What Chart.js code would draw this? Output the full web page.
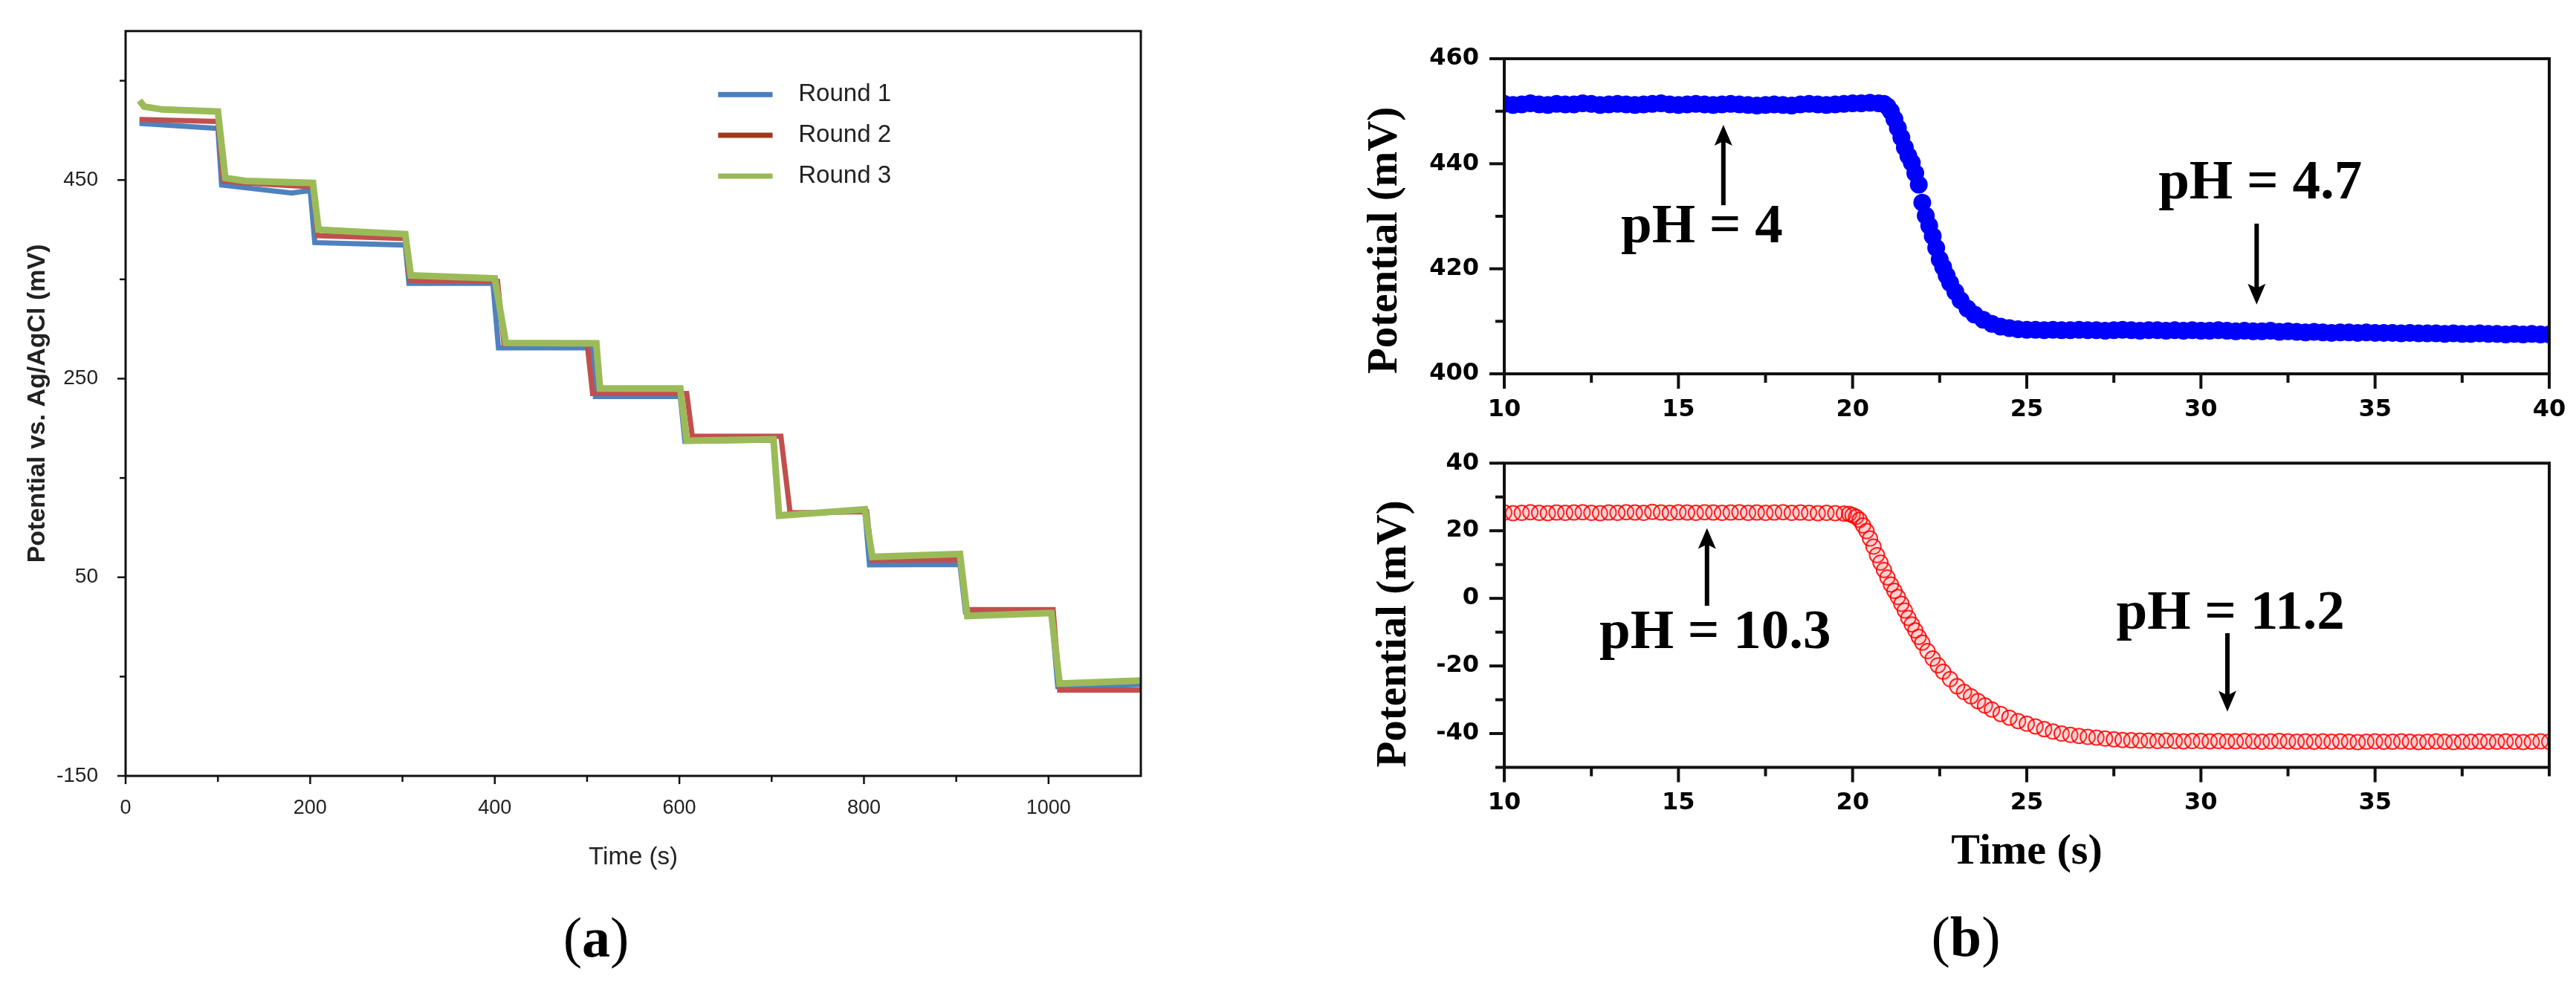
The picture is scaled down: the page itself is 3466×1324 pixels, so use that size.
<!DOCTYPE html>
<html>
<head>
<meta charset="utf-8">
<title>Potential vs time</title>
<script src="https://cdn.jsdelivr.net/npm/chart.js@4.4.1/dist/chart.umd.min.js"></script>
<style>
  body { margin: 0; background: #fff; width: 3466px; height: 1324px; position: relative; overflow: hidden; }
  canvas { position: absolute; }
  #cvA { left: 0; top: 0; }
  #cvTop { left: 1760px; top: 0; }
  #cvBot { left: 1760px; top: 590px; }
  .tag { position: absolute; font-family: "Liberation Serif", serif; font-size: 76px; line-height: 1; transform: translate(-50%, -50%); color: #000; }
</style>
</head>
<body>
<canvas id="cvA" width="1600" height="1200"></canvas>
<canvas id="cvTop" width="1706" height="590"></canvas>
<canvas id="cvBot" width="1706" height="734"></canvas>
<div class="tag" style="left:802px; top:1261px;">(<b>a</b>)</div>
<div class="tag" style="left:2645px; top:1260px;">(<b>b</b>)</div>

<script>
// ---- panel (a): three rounds of step titration, breakpoints ----
var roundNames = ['Round 1', 'Round 2', 'Round 3'];

var r1Time = [15, 100, 104, 180, 200, 205, 303, 307, 398, 404, 505, 509, 601, 606, 702, 708, 801, 806, 904, 910, 1003, 1010, 1100];
var r1Mv   = [507, 502, 445, 437, 439.5, 387, 384.5, 346, 346, 281, 281, 232, 232, 187, 188, 113, 117, 62.5, 63, 15, 15, -60, -58];

var r2Time = [15, 100, 106, 130, 203, 208, 303, 308, 403, 410, 500, 506, 608, 614, 710, 720, 803, 809, 904, 911, 1005, 1012, 1100];
var r2Mv   = [511, 509, 449, 447, 443, 394, 391, 349, 348, 285, 286, 235, 235, 192, 192, 115, 116, 67, 67.5, 17.5, 17.5, -63.5, -63.5];

var r3Time = [15, 20, 40, 100, 108, 130, 203, 209, 250, 303, 309, 400, 412, 510, 514, 601, 608, 702, 708, 801, 809, 904, 912, 1003, 1012, 1100];
var r3Mv   = [530, 524, 521, 519, 452, 449, 447, 400, 398, 395.5, 354, 351, 286, 285.5, 240, 240, 187.5, 189, 112, 118.5, 70.5, 73.5, 11, 14, -57, -54];

var aXTicks  = [0, 100, 200, 300, 400, 500, 600, 700, 800, 900, 1000];
var aXLabels = [0, 200, 400, 600, 800, 1000];
var aYTicks  = [-150, -50, 50, 150, 250, 350, 450, 550];
var aYLabels = [-150, 50, 250, 450];

// ---- panel (b): pH 4 -> 4.7 (top) and pH 10.3 -> 11.2 (bottom) ----
var blueTime = [
  10, 10.25, 10.5, 10.75, 11, 11.25, 11.5, 11.75, 12, 12.25,
  12.5, 12.75, 13, 13.25, 13.5, 13.75, 14, 14.25, 14.5, 14.75,
  15, 15.25, 15.5, 15.75, 16, 16.25, 16.5, 16.75, 17, 17.25,
  17.5, 17.75, 18, 18.25, 18.5, 18.75, 19, 19.25, 19.5, 19.75,
  20, 20.25, 20.5, 20.75, 20.9, 21, 21.1, 21.2, 21.3, 21.4,
  21.5, 21.6, 21.7, 21.8, 21.9, 22, 22.1, 22.2, 22.3, 22.4,
  22.5, 22.6, 22.7, 22.8, 22.95, 23.1, 23.3, 23.5, 23.75, 24,
  24.25, 24.5, 24.75, 25, 25.25, 25.5, 25.75, 26, 26.25, 26.5,
  26.75, 27, 27.25, 27.5, 27.75, 28, 28.25, 28.5, 28.75, 29,
  29.25, 29.5, 29.75, 30, 30.25, 30.5, 30.75, 31, 31.25, 31.5,
  31.75, 32, 32.25, 32.5, 32.75, 33, 33.25, 33.5, 33.75, 34,
  34.25, 34.5, 34.75, 35, 35.25, 35.5, 35.75, 36, 36.25, 36.5,
  36.75, 37, 37.25, 37.5, 37.75, 38, 38.25, 38.5, 38.75, 39,
  39.25, 39.5, 39.75, 40
];
var blueMv = [
  451.4, 451.2, 451.3, 451.5, 451.3, 451.2, 451.4, 451.3, 451.3, 451.5,
  451.4, 451.2, 451.3, 451.4, 451.3, 451.2, 451.3, 451.4, 451.5, 451.3,
  451.2, 451.3, 451.4, 451.3, 451.2, 451.3, 451.4, 451.3, 451.2, 451.1,
  451.2, 451.3, 451.2, 451.1, 451.3, 451.4, 451.3, 451.2, 451.3, 451.4,
  451.5, 451.5, 451.6, 451.5, 451.4, 450.9, 450.0, 448.5, 446.8, 445.0,
  443.1, 441.5, 440.2, 438.2, 436.0, 432.6, 430.1, 428.2, 426.2, 424.0,
  421.8, 420.3, 418.7, 417.3, 415.6, 414.0, 412.4, 411.3, 410.3, 409.5,
  409.0, 408.7, 408.5, 408.4, 408.4, 408.3, 408.4, 408.3, 408.3, 408.4,
  408.3, 408.3, 408.2, 408.3, 408.4, 408.3, 408.2, 408.3, 408.3, 408.2,
  408.3, 408.2, 408.3, 408.2, 408.2, 408.3, 408.2, 408.1, 408.2, 408.1,
  408.1, 408.2, 408.0, 408.1, 408.0, 407.9, 408.0, 407.9, 407.8, 407.9,
  407.9, 407.8, 407.9, 407.8, 407.8, 407.8, 407.7, 407.8, 407.7, 407.7,
  407.7, 407.6, 407.7, 407.6, 407.6, 407.7, 407.6, 407.6, 407.5, 407.6,
  407.5, 407.6, 407.5, 407.5
];

var redTime = [
  10, 10.25, 10.5, 10.75, 11, 11.25, 11.5, 11.75, 12, 12.25,
  12.5, 12.75, 13, 13.25, 13.5, 13.75, 14, 14.25, 14.5, 14.75,
  15, 15.25, 15.5, 15.75, 16, 16.25, 16.5, 16.75, 17, 17.25,
  17.5, 17.75, 18, 18.25, 18.5, 18.75, 19, 19.25, 19.5, 19.75,
  19.9, 20, 20.1, 20.2, 20.3, 20.4, 20.5, 20.6, 20.7, 20.8,
  20.9, 21, 21.1, 21.2, 21.3, 21.4, 21.5, 21.6, 21.7, 21.8,
  21.9, 22, 22.15, 22.3, 22.45, 22.6, 22.8, 23, 23.2, 23.4,
  23.6, 23.8, 24, 24.25, 24.5, 24.75, 25, 25.25, 25.5, 25.75,
  26, 26.25, 26.5, 26.75, 27, 27.25, 27.5, 27.75, 28, 28.25,
  28.5, 28.75, 29, 29.25, 29.5, 29.75, 30, 30.25, 30.5, 30.75,
  31, 31.25, 31.5, 31.75, 32, 32.25, 32.5, 32.75, 33, 33.25,
  33.5, 33.75, 34, 34.25, 34.5, 34.75, 35, 35.25, 35.5, 35.75,
  36, 36.25, 36.5, 36.75, 37, 37.25, 37.5, 37.75, 38, 38.25,
  38.5, 38.75, 39, 39.25, 39.5, 39.75, 40
];
var redMv = [
  25.4, 25.2, 25.3, 25.5, 25.3, 25.2, 25.4, 25.3, 25.4, 25.5,
  25.3, 25.2, 25.4, 25.3, 25.5, 25.4, 25.3, 25.6, 25.4, 25.3,
  25.5, 25.4, 25.3, 25.5, 25.4, 25.3, 25.4, 25.5, 25.3, 25.4,
  25.3, 25.4, 25.5, 25.3, 25.4, 25.3, 25.2, 25.3, 25.2, 25.1,
  25.0, 24.6, 24.1, 23.2, 21.6, 19.9, 17.7, 15.3, 12.8, 10.6,
  8.4, 6.2, 4.1, 2.2, 0.4, -1.6, -3.6, -5.8, -7.7, -9.5,
  -11.4, -13.1, -15.6, -17.8, -19.8, -21.7, -23.9, -26.0, -27.7, -29.0,
  -30.4, -31.7, -32.9, -34.2, -35.3, -36.3, -37.1, -37.9, -38.7, -39.4,
  -40.0, -40.4, -40.7, -41.0, -41.2, -41.5, -41.7, -41.9, -42.0, -42.1,
  -42.1, -42.2, -42.1, -42.2, -42.3, -42.2, -42.2, -42.3, -42.2, -42.3,
  -42.3, -42.2, -42.3, -42.4, -42.3, -42.2, -42.3, -42.4, -42.3, -42.4,
  -42.3, -42.4, -42.3, -42.4, -42.5, -42.4, -42.3, -42.4, -42.4, -42.3,
  -42.4, -42.5, -42.4, -42.3, -42.4, -42.5, -42.4, -42.4, -42.3, -42.4,
  -42.4, -42.3, -42.4, -42.5, -42.4, -42.3, -42.4
];

var bXTicks     = [10, 12.5, 15, 17.5, 20, 22.5, 25, 27.5, 30, 32.5, 35, 37.5, 40];
var bXLabelsTop = [10, 15, 20, 25, 30, 35, 40];
var bXLabelsBot = [10, 15, 20, 25, 30, 35];
var topYTicks   = [400, 410, 420, 430, 440, 450, 460];
var topYLabels  = [400, 420, 440, 460];
var botYTicks   = [-50, -40, -30, -20, -10, 0, 10, 20, 30, 40];
var botYLabels  = [-40, -20, 0, 20, 40];

function pairUp(ts, vs) {
    return ts.map(function(t, i) { return {x: t, y: vs[i]}; });
}

function fixedTicks(list) {
    return function(scale) {
        scale.ticks = list.map(function(v) { return {value: v}; });
    };
}

function labelsOnly(list) {
    return function(value) {
        return list.indexOf(value) >= 0 ? String(value) : '';
    };
}

/**
 * Box round the plot area, plus major/minor tick marks drawn
 * at the scale's own tick pixels (labelled ticks are the long ones)
 */
var frameTicks = {
    id: 'frameTicks',
    afterDraw: function(chart, args, opts) {
        var ctx = chart.ctx, a = chart.chartArea;
        ctx.save();
        ctx.strokeStyle = opts.color;
        ctx.lineWidth = opts.lineWidth;
        ctx.strokeRect(a.left, a.top, a.right - a.left, a.bottom - a.top);
        ctx.lineWidth = opts.tickWidth;
        ['x', 'y'].forEach(function(id) {
            var scale = chart.scales[id];
            scale.ticks.forEach(function(tk) {
                var p = scale.getPixelForValue(tk.value);
                var len = tk.label === '' ? opts.minor : opts.major;
                ctx.beginPath();
                if (id === 'x') {
                    ctx.moveTo(p, a.bottom);
                    ctx.lineTo(p, a.bottom + len);
                } else {
                    ctx.moveTo(a.left, p);
                    ctx.lineTo(a.left - len, p);
                }
                ctx.stroke();
            });
        });
        ctx.restore();
    }
};

// pH labels with their arrows, placed in data units
var phNotes = {
    id: 'phNotes',
    afterDatasetsDraw: function(chart, args, opts) {
        var ctx = chart.ctx, xs = chart.scales.x, ys = chart.scales.y;
        ctx.save();
        ctx.fillStyle = '#000';
        ctx.strokeStyle = '#000';
        ctx.font = opts.font;
        ctx.textBaseline = 'alphabetic';
        ctx.textAlign = 'left';
        opts.items.forEach(function(it) {
            ctx.fillText(it.text, xs.getPixelForValue(it.x), ys.getPixelForValue(it.y));
            var ax = xs.getPixelForValue(it.arrowX);
            var y0 = ys.getPixelForValue(it.tail), y1 = ys.getPixelForValue(it.tip);
            var dir = y1 > y0 ? 1 : -1;
            ctx.lineWidth = 6;
            ctx.beginPath();
            ctx.moveTo(ax, y0);
            ctx.lineTo(ax, y1 - dir * 20);
            ctx.stroke();
            ctx.beginPath();
            ctx.moveTo(ax, y1);
            ctx.lineTo(ax - 12, y1 - dir * 28);
            ctx.lineTo(ax, y1 - dir * 22);
            ctx.lineTo(ax + 12, y1 - dir * 28);
            ctx.closePath();
            ctx.fill();
        });
        ctx.restore();
    }
};

// legend sitting inside the plot of panel (a)
var roundLegend = {
    id: 'roundLegend',
    afterDraw: function(chart, args, opts) {
        var ctx = chart.ctx, xs = chart.scales.x, ys = chart.scales.y;
        var x0 = xs.getPixelForValue(opts.lineFrom), x1 = xs.getPixelForValue(opts.lineTo);
        var tx = xs.getPixelForValue(opts.textAt);
        ctx.save();
        ctx.font = opts.font;
        ctx.textBaseline = 'middle';
        ctx.fillStyle = '#222';
        opts.rows.forEach(function(rowVal, i) {
            var y = ys.getPixelForValue(rowVal);
            ctx.strokeStyle = opts.colors[i];
            ctx.lineWidth = 7;
            ctx.beginPath();
            ctx.moveTo(x0, y);
            ctx.lineTo(x1, y);
            ctx.stroke();
            ctx.fillText(roundNames[i], tx, y);
        });
        ctx.restore();
    }
};

var clear = 'rgba(0,0,0,0)';

/**
 * Panel (a)
 */
new Chart(document.getElementById('cvA'), {
    type: 'scatter',
    data: {
        datasets: [
            { label: roundNames[0], data: pairUp(r1Time, r1Mv), showLine: true, borderColor: '#4f81bd', borderWidth: 7, pointRadius: 0, order: 3 },
            { label: roundNames[1], data: pairUp(r2Time, r2Mv), showLine: true, borderColor: '#c0504d', borderWidth: 7, pointRadius: 0, order: 2 },
            { label: roundNames[2], data: pairUp(r3Time, r3Mv), showLine: true, borderColor: '#9bbb59', borderWidth: 9, pointRadius: 0, order: 1 }
        ]
    },
    options: {
        responsive: false,
        animation: false,
        devicePixelRatio: 1,
        layout: { padding: { left: 0, right: 65, top: 33, bottom: 0 } },
        plugins: {
            legend: { display: false },
            tooltip: { enabled: false },
            frameTicks: { color: '#111', lineWidth: 3, tickWidth: 2.5, major: 11, minor: 8 },
            roundLegend: {
                lineFrom: 642, lineTo: 701, textAt: 729,
                rows: [536, 495, 454],
                colors: ['#4a7ebb', '#9c3b1b', '#98b954'],
                font: '33px "Liberation Sans"'
            }
        },
        scales: {
            x: {
                type: 'linear', min: 0, max: 1100,
                afterBuildTicks: fixedTicks(aXTicks),
                afterFit: function(s) { s.height = 156; },
                ticks: { autoSkip: false, maxRotation: 0, padding: 17, color: '#222',
                         font: { family: 'Liberation Sans', size: 27 }, callback: labelsOnly(aXLabels) },
                grid: { drawOnChartArea: false, tickLength: 10, color: clear },
                border: { display: false },
                title: { display: true, text: 'Time (s)', color: '#222',
                         font: { family: 'Liberation Sans', size: 33 }, padding: { top: 0, bottom: 26 } }
            },
            y: {
                type: 'linear', min: -150, max: 600,
                afterBuildTicks: fixedTicks(aYTicks),
                afterFit: function(s) { s.width = 169; },
                ticks: { autoSkip: false, padding: 25, color: '#222',
                         font: { family: 'Liberation Sans', size: 28 }, callback: labelsOnly(aYLabels) },
                grid: { drawOnChartArea: false, tickLength: 12, color: clear },
                border: { display: false },
                title: { display: true, text: 'Potential vs. Ag/AgCl (mV)', color: '#222',
                         font: { family: 'Liberation Sans', size: 34, weight: 'bold' }, padding: { top: 30, bottom: 0 } }
            }
        }
    },
    plugins: [frameTicks, roundLegend]
});

/**
 * Panel (b) - both halves share the Origin-like axis styling
 */
function bScales(yMin, yMax, yTicks, yLabels, xLabels, xHeight, titleLeft, withTitle) {
    return {
        x: {
            type: 'linear', min: 10, max: 40,
            afterBuildTicks: fixedTicks(bXTicks),
            afterFit: function(s) { s.height = xHeight; },
            ticks: { autoSkip: false, maxRotation: 0, padding: 9, color: '#000',
                     font: { family: 'DejaVu Sans', size: 32, weight: 'bold' }, callback: labelsOnly(xLabels) },
            grid: { drawOnChartArea: false, tickLength: 20, color: clear },
            border: { display: false },
            title: { display: withTitle, text: 'Time (s)', color: '#000',
                     font: { family: 'Liberation Serif', size: 58, weight: 'bold' }, padding: { top: 0, bottom: 142 } }
        },
        y: {
            type: 'linear', min: yMin, max: yMax,
            afterBuildTicks: fixedTicks(yTicks),
            afterFit: function(s) { s.width = 264; },
            ticks: { autoSkip: false, padding: 14, color: '#000',
                     font: { family: 'DejaVu Sans', size: 32, weight: 'bold' }, callback: labelsOnly(yLabels) },
            grid: { drawOnChartArea: false, tickLength: 20, color: clear },
            border: { display: false },
            title: { display: true, text: 'Potential (mV)', color: '#000', align: 'start',
                     font: { family: 'Liberation Serif', size: 57, weight: 'bold' }, padding: { top: titleLeft, bottom: 0 } }
        }
    };
}

new Chart(document.getElementById('cvTop'), {
    type: 'scatter',
    data: {
        datasets: [{
            label: 'pH 4 to 4.7',
            data: pairUp(blueTime, blueMv),
            pointStyle: 'circle', pointRadius: 12, pointBorderWidth: 0,
            pointBackgroundColor: '#0000ff', pointBorderColor: '#0000ff'
        }]
    },
    options: {
        responsive: false,
        animation: false,
        devicePixelRatio: 1,
        layout: { padding: { left: 0, right: 36, top: 79, bottom: 0 } },
        plugins: {
            legend: { display: false },
            tooltip: { enabled: false },
            frameTicks: { color: '#111', lineWidth: 4, tickWidth: 4, major: 20, minor: 12 },
            phNotes: {
                font: 'bold 75px "Liberation Serif"',
                items: [
                    { text: 'pH = 4',   x: 13.35, y: 425.1, arrowX: 16.29, tail: 432.1, tip: 447.4 },
                    { text: 'pH = 4.7', x: 28.78, y: 433.4, arrowX: 31.6,  tail: 428.6, tip: 413.2 }
                ]
            }
        },
        scales: bScales(400, 460, topYTicks, topYLabels, bXLabelsTop, 87, 70, false)
    },
    plugins: [frameTicks, phNotes]
});

new Chart(document.getElementById('cvBot'), {
    type: 'scatter',
    data: {
        datasets: [{
            label: 'pH 10.3 to 11.2',
            data: pairUp(redTime, redMv),
            pointStyle: 'circle', pointRadius: 10, pointBorderWidth: 2,
            pointBackgroundColor: 'rgba(255,90,90,0.15)', pointBorderColor: 'rgba(255,0,0,0.85)'
        }]
    },
    options: {
        responsive: false,
        animation: false,
        devicePixelRatio: 1,
        layout: { padding: { left: 0, right: 36, top: 19, bottom: 0 } },
        plugins: {
            legend: { display: false },
            tooltip: { enabled: false },
            frameTicks: { color: '#111', lineWidth: 4, tickWidth: 4, major: 20, minor: 12 },
            phNotes: {
                font: 'bold 75px "Liberation Serif"',
                items: [
                    { text: 'pH = 10.3', x: 12.73, y: -14.7, arrowX: 15.82, tail: -2.2,  tip: 20.8 },
                    { text: 'pH = 11.2', x: 27.57, y: -9,    arrowX: 30.76, tail: -10.3, tip: -33.5 }
                ]
            }
        },
        scales: bScales(-50, 40, botYTicks, botYLabels, bXLabelsBot, 291.5, 82, true)
    },
    plugins: [frameTicks, phNotes]
});
</script>
</body>
</html>
